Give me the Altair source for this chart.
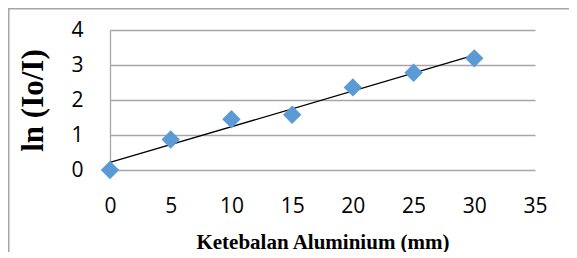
import altair as alt
import pandas as pd

# Data
thickness = [0, 5, 10, 15, 20, 25, 30]
ln_ratio = [0.0, 0.87, 1.45, 1.58, 2.36, 2.78, 3.19]
x_ticks = [0, 5, 10, 15, 20, 25, 30, 35]
y_ticks = [0, 1, 2, 3, 4]

df = pd.DataFrame({"x": thickness, "y": ln_ratio})

W, H = 425, 140
PAD_L, PAD_T, PAD_R, PAD_B = 102, 22, 34, 82
GRID = "#a6a6a6"
TICK_FONT = "Open Sans"
TITLE_FONT = "Liberation Serif"

x_enc = alt.X(
    "x:Q",
    scale=alt.Scale(domain=[0, 35], nice=False, zero=False),
    axis=alt.Axis(
        values=x_ticks,
        grid=False,
        domain=False,
        ticks=False,
        tickSize=0,
        labelFlush=False,
        labelOverlap=False,
        labelPadding=25,
        labelFont=TICK_FONT,
        labelFontSize=21,
        labelColor="#000000",
        title="Ketebalan Aluminium (mm)",
        titleFont=TITLE_FONT,
        titleFontSize=21,
        titleFontWeight="bold",
        titleColor="#000000",
        titleBaseline="alphabetic",
        titleY=78,
        titleX=W / 2,
    ),
)
y_enc = alt.Y(
    "y:Q",
    scale=alt.Scale(domain=[0, 4], nice=False),
    axis=alt.Axis(
        values=y_ticks,
        grid=True,
        gridColor=GRID,
        gridWidth=1.3,
        domain=True,
        domainColor=GRID,
        domainWidth=1.3,
        ticks=False,
        tickSize=0,
        labelFlush=False,
        labelOverlap=False,
        labelPadding=27,
        labelFont=TICK_FONT,
        labelFontSize=21,
        labelColor="#000000",
        title="ln (Io/I)",
        titleFont=TITLE_FONT,
        titleFontSize=31,
        titleFontWeight="bold",
        titleColor="#000000",
        titleAngle=270,
        titleAlign="center",
        titleBaseline="middle",
        titleX=-77,
        titleY=70,
    ),
)

base = alt.Chart(df)

trend = base.transform_regression("x", "y", extent=[0, 30]).mark_line(
    color="#000000", strokeWidth=1.3
).encode(x=x_enc, y=y_enc)

points = base.mark_point(
    shape="diamond", filled=True, size=340, color="#5b9bd5", opacity=1
).encode(x=x_enc, y=y_enc)

frame_top = alt.Chart(pd.DataFrame({"a": [0]})).mark_rule(
    color="#a6a6a6", strokeWidth=1.5, clip=False
).encode(
    x=alt.value(-PAD_L),
    x2=alt.value(W + PAD_R),
    y=alt.value(-PAD_T + 0.75),
)
frame_left = alt.Chart(pd.DataFrame({"a": [0]})).mark_rule(
    color="#a6a6a6", strokeWidth=1.5, clip=False
).encode(
    x=alt.value(-PAD_L + 0.75),
    y=alt.value(-PAD_T),
    y2=alt.value(H + PAD_B),
)

chart = (
    alt.layer(trend, points, frame_top, frame_left)
    .properties(
        width=W,
        height=H,
        autosize=alt.AutoSizeParams(type="none"),
        padding={"left": PAD_L, "top": PAD_T, "right": PAD_R, "bottom": PAD_B},
        background="#ffffff",
    )
    .configure_view(stroke=None)
)

chart.save("out.html", embed_options={"renderer": "svg", "actions": False})
